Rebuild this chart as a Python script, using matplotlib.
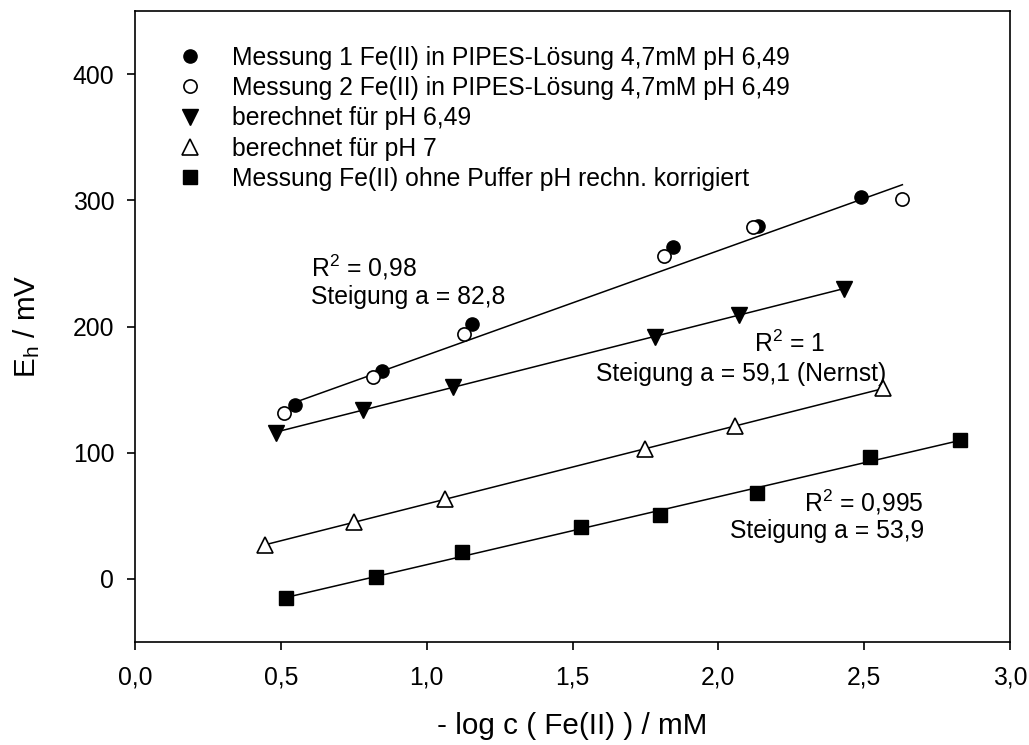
import numpy as np
import matplotlib
matplotlib.use("Agg")
import matplotlib.pyplot as plt
from matplotlib.ticker import FuncFormatter, MultipleLocator

plt.rcParams['font.family'] = ['Liberation Sans', 'DejaVu Sans']
plt.rcParams['mathtext.fontset'] = 'custom'
plt.rcParams['mathtext.rm'] = 'Liberation Sans'
plt.rcParams['mathtext.it'] = 'Liberation Sans'

# Messung 1 Fe(II) in PIPES-Lösung
m1_x = [0.548, 0.848, 1.157, 1.846, 2.137, 2.488]
m1_y = [138, 165, 201.6, 263, 279.4, 302.6]
# Messung 2 Fe(II) in PIPES-Lösung
m2_x = [0.511, 0.816, 1.127, 1.815, 2.12, 2.631]
m2_y = [131.2, 159.8, 194.2, 255.6, 278.8, 301.3]
# berechnet für pH 6,49
ph649_x = [0.482, 0.782, 1.09, 1.782, 2.07, 2.43]
ph649_y = [116, 134, 152, 192, 209, 230]
# berechnet für pH 7
ph7_x = [0.445, 0.751, 1.062, 1.75, 2.056, 2.565]
ph7_y = [27, 45, 63, 103, 121, 151]
# Messung ohne Puffer
sq_x = [0.516, 0.828, 1.122, 1.528, 1.801, 2.131, 2.52, 2.827]
sq_y = [-15.5, 1.6, 21.4, 41.4, 50.5, 68, 96.3, 110.3]

# Regression of the PIPES measurements: slope as annotated, intercept in mV
pipes_slope = 82.8
pipes_intercept = 94.5

labels = [
    "Messung 1 Fe(II) in PIPES-Lösung 4,7mM pH 6,49",
    "Messung 2 Fe(II) in PIPES-Lösung 4,7mM pH 6,49",
    "berechnet für pH 6,49",
    "berechnet für pH 7",
    "Messung Fe(II) ohne Puffer pH rechn. korrigiert",
]

FS = 17.8
LFS = 21.3

fig = plt.figure(figsize=(10.29, 7.45), dpi=100)
ax = fig.add_axes([135 / 1029, 1 - 642 / 745, 875 / 1029, 631 / 745])


def draw_line(x0, x1, k, d):
    xx = np.array([x0, x1])
    ax.plot(xx, k * xx + d, color='black', lw=1.1, zorder=1)


def fit_line(xs, ys):
    k, d = np.polyfit(np.asarray(xs, float), np.asarray(ys, float), 1)
    draw_line(min(xs), max(xs), k, d)


draw_line(min(m1_x), max(m2_x), pipes_slope, pipes_intercept)
fit_line(ph649_x, ph649_y)
fit_line(ph7_x, ph7_y)
fit_line(sq_x, sq_y)

ax.plot(m1_x, m1_y, 'o', ms=9.5, mfc='black', mec='black', ls='none', label=labels[0], zorder=3)
ax.plot(m2_x, m2_y, 'o', ms=9.5, mfc='white', mec='black', mew=1.2, ls='none', label=labels[1], zorder=3)
ax.plot(ph649_x, ph649_y, 'v', ms=11.5, mfc='black', mec='black', ls='none', label=labels[2], zorder=3)
ax.plot(ph7_x, ph7_y, '^', ms=11.5, mfc='white', mec='black', mew=1.2, ls='none', label=labels[3], zorder=3)
ax.plot(sq_x, sq_y, 's', ms=10, mfc='black', mec='black', ls='none', label=labels[4], zorder=3)

ax.set_xlim(0, 3.0)
ax.set_ylim(-50, 450)
ax.xaxis.set_major_locator(MultipleLocator(0.5))
ax.set_yticks([0, 100, 200, 300, 400])
ax.xaxis.set_major_formatter(FuncFormatter(lambda v, p: f"{v:.1f}".replace('.', ',')))
ax.yaxis.set_major_formatter(FuncFormatter(lambda v, p: f"{v:.0f}"))

for s in ax.spines.values():
    s.set_linewidth(1.2)
ax.tick_params(direction='out', length=6, width=1.2, labelsize=FS)
ax.tick_params(axis='x', pad=11)
ax.tick_params(axis='y', pad=9)

ax.set_xlabel("- log c ( Fe(II) ) / mM", fontsize=LFS, labelpad=16)
ax.set_ylabel(r"E$_\mathregular{h}$ / mV", fontsize=LFS, labelpad=22)

ax.text(0.603, 247, r"R$^\mathregular{2}$ = 0,98", fontsize=FS, ha='left', va='center')
ax.text(0.603, 223, "Steigung a = 82,8", fontsize=FS, ha='left', va='center')
ax.text(2.245, 186, r"R$^\mathregular{2}$ = 1", fontsize=FS, ha='center', va='center')
ax.text(2.079, 162.5, "Steigung a = 59,1 (Nernst)", fontsize=FS, ha='center', va='center')
ax.text(2.705, 61, r"R$^\mathregular{2}$ = 0,995", fontsize=FS, ha='right', va='center')
ax.text(2.705, 38, "Steigung a = 53,9", fontsize=FS, ha='right', va='center')

leg = ax.legend(loc='upper left', bbox_to_anchor=(0.0417, 0.945), frameon=False,
                fontsize=FS, numpoints=1, handlelength=1.5, handletextpad=0.95,
                labelspacing=0.255, borderaxespad=0, borderpad=0)

fig.savefig("out.png", dpi=100)
